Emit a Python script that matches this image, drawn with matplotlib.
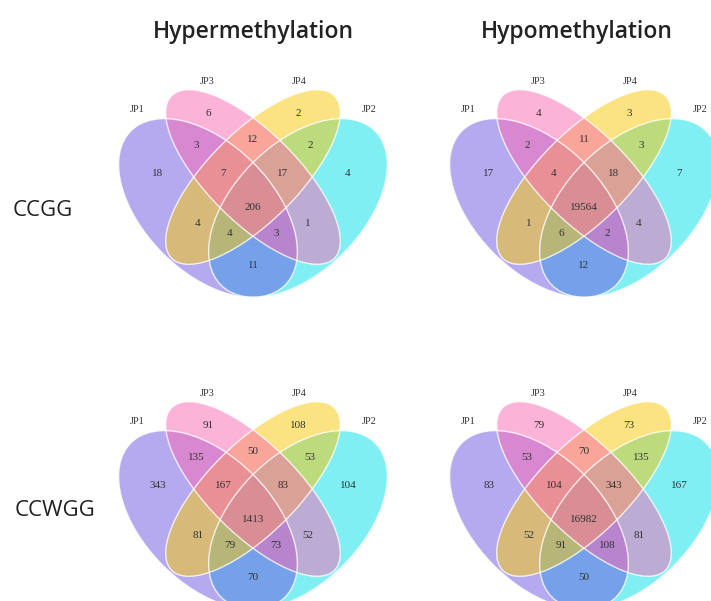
import matplotlib
matplotlib.use("Agg")
import matplotlib.pyplot as plt
from matplotlib.patches import Ellipse

# region order: JP1, JP3, JP4, JP2, JP1&3, JP3&4, JP4&2, JP1&3&4, JP3&4&2,
# all, JP1&4, JP2&3, JP1&2&4, JP1&2&3, JP1&2
hyper_ccgg = [18, 6, 2, 4, 3, 12, 2, 7, 17, 206, 4, 1, 4, 3, 11]
hypo_ccgg = [17, 4, 3, 7, 2, 11, 3, 4, 18, 19564, 1, 4, 6, 2, 12]
hyper_ccwgg = [343, 91, 108, 104, 135, 50, 53, 167, 83, 1413, 81, 52, 79, 73, 70]
hypo_ccwgg = [83, 79, 73, 167, 53, 70, 135, 104, 343, 16982, 52, 81, 91, 108, 50]

set_names = ["JP1", "JP3", "JP4", "JP2"]
col_titles = ["Hypermethylation", "Hypomethylation"]
row_titles = ["CCGG", "CCWGG"]

# text offsets of each region from the venn centre (pixels, y down)
region_pos = [(-95, -4), (-45, -63), (45, -63), (95, -4),
              (-57, -31), (0, -37), (57, -31),
              (-30, -4), (30, -4), (0, 30),
              (-55, 46), (55, 46), (-23, 57), (23, 57), (0, 88)]
label_pos = [(-116, -68), (-46, -96), (46, -96), (116, -68)]

# ellipses in drawing order: centre offset, size, angle, colour
ellipses = [((45, 31), (218, 128), -45, "#00e1eb"),   # JP2
            ((-45, 31), (218, 128), 45, "#6d55e1"),   # JP1
            ((0, 0), (230, 90), -45, "#f9c905"),      # JP4
            ((0, 0), (230, 90), 45, "#f968b2")]       # JP3


def draw_venn(ax, cx, cy, counts):
    for (dx, dy), (w, h), ang, col in ellipses:
        ax.add_patch(Ellipse((cx + dx, cy + dy), w, h, angle=ang,
                             facecolor=col, alpha=0.5, edgecolor="none"))
    for (dx, dy), (w, h), ang, col in ellipses:
        ax.add_patch(Ellipse((cx + dx, cy + dy), w, h, angle=ang,
                             facecolor="none", edgecolor="white", lw=1.0, alpha=0.8))
    for (dx, dy), n in zip(region_pos, counts):
        ax.text(cx + dx, cy + dy, str(n), ha="center", va="center",
                fontsize=8, family="Liberation Serif", color="#333333")
    for (dx, dy), name in zip(label_pos, set_names):
        ax.text(cx + dx, cy + dy, name, ha="center", va="center",
                fontsize=7.5, family="Liberation Serif", color="#333333")


fig = plt.figure(figsize=(7.11, 6.01), dpi=100)
ax = fig.add_axes([0, 0, 1, 1])
ax.set_xlim(0, 711)
ax.set_ylim(601, 0)
ax.set_aspect("equal")
ax.axis("off")

draw_venn(ax, 253, 177, hyper_ccgg)
draw_venn(ax, 584, 177, hypo_ccgg)
draw_venn(ax, 253, 489, hyper_ccwgg)
draw_venn(ax, 584, 489, hypo_ccwgg)

ax.text(253, 32, col_titles[0], ha="center", va="center", fontsize=16.5,
        family="Open Sans", fontweight="semibold", color="#222222")
ax.text(577, 32, col_titles[1], ha="center", va="center", fontsize=16.5,
        family="Open Sans", fontweight="semibold", color="#222222")
ax.text(43, 210, row_titles[0], ha="center", va="center", fontsize=16,
        family="Open Sans", color="#222222")
ax.text(55, 510, row_titles[1], ha="center", va="center", fontsize=16,
        family="Open Sans", color="#222222")

fig.savefig("out.png", dpi=100)
